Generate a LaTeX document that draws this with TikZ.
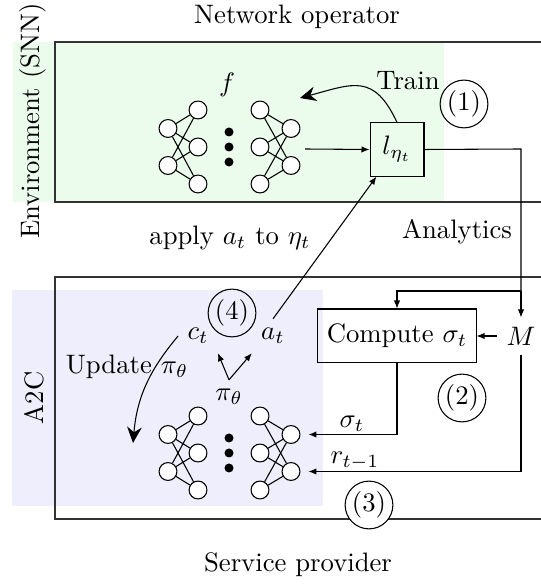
\documentclass[tikz,border=0pt]{standalone}
\usepackage{times}
\usepackage{tikz}
\usetikzlibrary{arrows.meta}

\definecolor{envgreen}{RGB}{236,252,236}
\definecolor{agentblue}{RGB}{238,238,252}

\tikzset{
  neuron/.style={circle,draw,fill=white,inner sep=0pt,minimum size=6.7pt},
  stepnum/.style={circle,draw,inner sep=0.6pt},
  bigtip/.style={-{Stealth[length=6pt,width=5.5pt,inset=2pt]}},
  frame/.style={draw=black!80,line width=0.6pt},
}

\begin{document}
\begin{tikzpicture}[x=0.3746pt,y=0.3746pt,>={Latex[length=3pt,width=2.4pt]}]
  \useasboundingbox (0,0) rectangle (540,584);

  % Top: network operator
  \fill[envgreen] (13,382) rectangle (444,542);
  \draw[frame] (55,382) rectangle (545,542);
  \node (netop) at (297,567) {Network operator};
  \node[rotate=90] (env) at (33,463) {Environment (SNN)};

  % Bottom: service provider
  \fill[agentblue] (12,78) rectangle (323,294);
  \draw[frame] (55,65) rectangle (545,307);
  \node (serv) at (298,19) {Service provider};
  \node[rotate=90] (a2c) at (34,186) {A2C};

  % the two nets
  \foreach \n/\yc in {top/437,bot/131} {
    \node[neuron] (\n-a1) at (168,{\yc+18.5}) {};
    \node[neuron] (\n-a2) at (168,{\yc-18.5}) {};
    \node[neuron] (\n-d1) at (291,{\yc+18.5}) {};
    \node[neuron] (\n-d2) at (291,{\yc-18.5}) {};
    \foreach \j/\dy in {1/37,2/0,3/-37} {
      \node[neuron] (\n-b\j) at (198,{\yc+\dy}) {};
      \node[neuron] (\n-c\j) at (260,{\yc+\dy}) {};
    }
    \foreach \i in {1,2}
      \foreach \j in {1,2,3} {
        \draw (\n-a\i) -- (\n-b\j);
        \draw (\n-c\j) -- (\n-d\i);
      }
    \foreach \k in {15,0,-15}
      \fill (229,{\yc+\k}) circle (4.5);
  }

  % Top
  \node (f) at (227,499) {$f$};
  \node[draw,fill=envgreen,minimum width=20.2pt,minimum height=19.9pt] (lbox) at (397,434.5) {$l_{\eta_t}$};
  \coordinate (fout) at (305,435);
  \draw[->] (fout) -- (lbox.west);
  \coordinate (trainend) at (300,486);
  \draw[bigtip] (lbox.north) to[out=115,in=15,looseness=1.4] (trainend);
  \node (train) at (408,503) {Train};
  \node[stepnum] (s1) at (464,480) {(1)};

  % Middle
  \node (apply) at (230,346) {apply $a_t$ to $\eta_t$};
  \node (analytics) at (457,352) {Analytics};

  % Bottom
  \node[draw,minimum width=56.9pt,minimum height=20.2pt] (comp) at (397,248) {Compute $\sigma_t$};
  \node (M) at (521,248) {$M$};
  \coordinate (tr) at (521,435);
  \coordinate (br) at (521,293);
  \draw (lbox.east) -- (tr) -- (br);
  \draw[->] (br) -- (M.north);
  \draw[->] (br) -| (comp.north);
  \draw[->] (M.west) -- (comp.east);
  \draw[->,shorten >=3pt] (comp.south) |- (bot-d1.east);
  \draw[->,shorten >=3pt] (M.south) |- (bot-d2.east);
  \node (sig) at (352,160) {$\sigma_t$};
  \node (rew) at (355,123) {$r_{t-1}$};
  \node[stepnum] (s2) at (462,186) {(2)};
  \node[stepnum,fill=white] (s3) at (369,79) {(3)};

  \node (ct) at (198,248) {$c_t$};
  \node (at) at (273,248) {$a_t$};
  \node (pi) at (229,187) {$\pi_\theta$};
  \node[stepnum] (s4) at (232,271) {(4)};
  \draw[->] (pi.north) -- (ct.south east);
  \draw[->] (pi.north) -- (at.south west);
  \draw[->] (at.north) -- ([xshift=2.6pt]lbox.south west);
  \coordinate (updend) at (133,141);
  \draw[bigtip] (ct.west) to[out=230,in=85] (updend);
  \node (upd) at (127,217) {Update $\pi_\theta$};
\end{tikzpicture}
\end{document}
